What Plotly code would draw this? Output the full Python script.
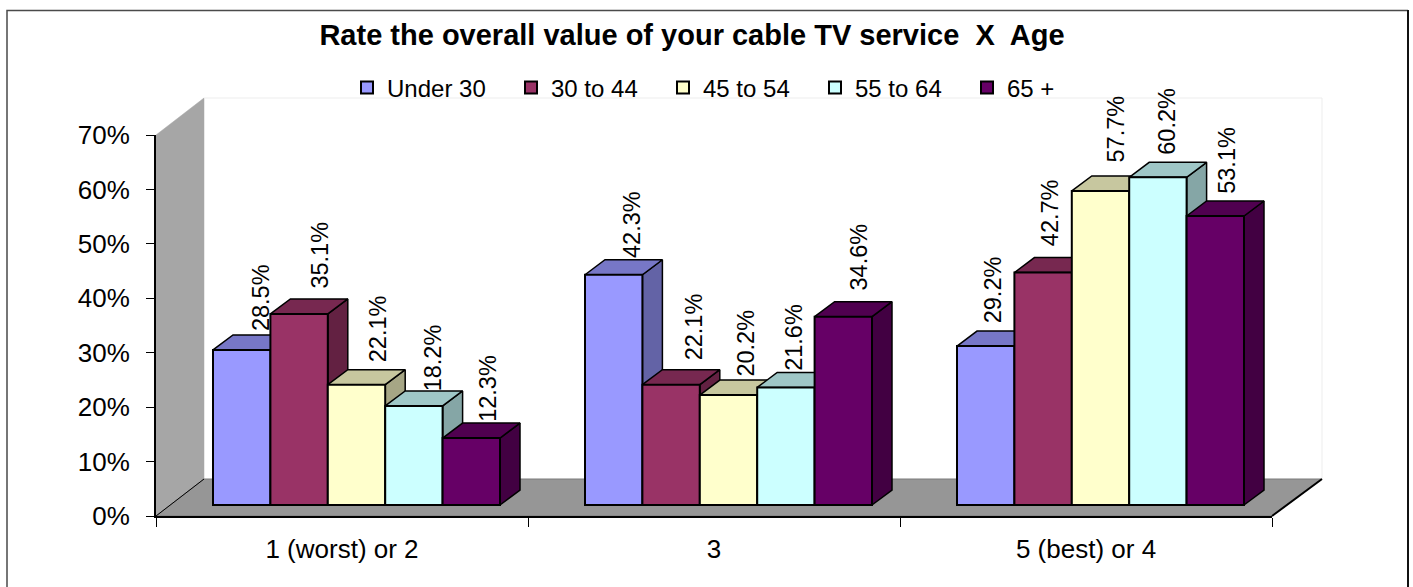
import plotly.graph_objects as go

CATEGORIES = ["1 (worst) or 2", "3", "5 (best) or 4"]
AGE_GROUPS = ["Under 30", "30 to 44", "45 to 54", "55 to 64", "65 +"]
UNDER_30 = [28.5, 42.3, 29.2]
AGE_30_44 = [35.1, 22.1, 42.7]
AGE_45_54 = [22.1, 20.2, 57.7]
AGE_55_64 = [18.2, 21.6, 60.2]
AGE_65_UP = [12.3, 34.6, 53.1]
SERIES = [UNDER_30, AGE_30_44, AGE_45_54, AGE_55_64, AGE_65_UP]
Y_TICKS = [0, 10, 20, 30, 40, 50, 60, 70]

# ---- styling / layout -------------------------------------------------
W, H = 1413, 587
L, R, T, B = 156, 1272, 135, 516
PX_CAT = (R - L) / 3
PX_PCT = (B - T) / 70
FONT = "Liberation Sans"
COLORS = ["#9999FF", "#993366", "#FFFFCC", "#CCFFFF", "#660066"]
TOP_SHADE, SIDE_SHADE = 0.78, 0.65

WALL_DX, WALL_DX_R, WALL_DY = 48 / PX_CAT, 50 / PX_CAT, 37 / PX_PCT
BAR_DX, BAR_DY = 20 / PX_CAT, 15 / PX_PCT
BAR_BASE = 11 / PX_PCT
BAR_LEFT = 57 / PX_CAT
BAR_W = 57.4 / PX_CAT

# label nudges in pixels, per series then per category
LABEL_DX = [[20, 19, 7], [21, 23, 7], [21.5, 17.5, 15.5], [20, 8, 9], [16, 16, 12]]
LABEL_DY = [[17, 15, 21], [23, 22, 24], [20, 16, 26], [13, 15, 21], [14, 24, 20]]
LEGEND_PX = [347, 511, 663, 815, 967]
LEGEND_PY = 88


def shade(hex_color, f):
    r, g, b = (int(hex_color[i:i + 2], 16) for i in (1, 3, 5))
    return f"rgb({round(r * f)},{round(g * f)},{round(b * f)})"


def poly(xs, ys, fill, line="#000000", lw=1.5):
    return go.Scatter(
        x=xs + xs[:1], y=ys + ys[:1], mode="lines", fill="toself", fillcolor=fill,
        line=dict(color=line, width=lw), showlegend=False, hoverinfo="skip",
        xaxis="x", yaxis="y",
    )


def line(xs, ys, color, lw):
    return go.Scatter(
        x=xs, y=ys, mode="lines", line=dict(color=color, width=lw), showlegend=False,
        hoverinfo="skip", xaxis="x", yaxis="y",
    )


fig = go.Figure()

# side wall, floor and back wall edges (background subplot spans the whole page)
fig.add_trace(poly([0, WALL_DX, WALL_DX, 0], [0, WALL_DY, 70 + WALL_DY, 70], "#A6A6A6", "#A6A6A6", 0.5))
fig.add_trace(poly([0, WALL_DX, 3 + WALL_DX_R, 3], [0, WALL_DY, WALL_DY, 0], "#969696", "#7A7A7A", 1))
fig.add_trace(line([WALL_DX, 3 + WALL_DX_R, 3 + WALL_DX_R], [70 + WALL_DY, 70 + WALL_DY, WALL_DY], "#EDEDED", 1))
fig.add_trace(line([0, WALL_DX], [0, WALL_DY], "#000000", 1))
fig.add_trace(line([3, 3 + WALL_DX_R], [0, WALL_DY], "#000000", 2))

# top and side faces, painted left to right
for c in range(len(CATEGORIES)):
    for s, values in enumerate(SERIES):
        v = BAR_BASE + values[c]
        x0 = c + BAR_LEFT + s * BAR_W
        x1 = x0 + BAR_W
        fig.add_trace(poly([x1, x1 + BAR_DX, x1 + BAR_DX, x1], [BAR_BASE, BAR_BASE + BAR_DY, v + BAR_DY, v],
                           shade(COLORS[s], SIDE_SHADE)))
        fig.add_trace(poly([x0, x0 + BAR_DX, x1 + BAR_DX, x1], [v, v + BAR_DY, v + BAR_DY, v],
                           shade(COLORS[s], TOP_SHADE)))

# front faces are real bars on the visible axes, in the subplot painted above
annotations = []
for s, (name, values) in enumerate(zip(AGE_GROUPS, SERIES)):
    centers = [c + BAR_LEFT + (s + 0.5) * BAR_W for c in range(len(CATEGORIES))]
    legend_id = "legend" if s == 0 else f"legend{s + 1}"
    fig.add_trace(go.Bar(
        x=centers, y=values, base=[BAR_BASE] * len(values), width=BAR_W, name=name,
        marker=dict(color=COLORS[s], line=dict(color="#000000", width=2)),
        xaxis="x2", yaxis="y2", legend=legend_id, hoverinfo="skip",
    ))
    for c, v in enumerate(values):
        annotations.append(dict(
            x=centers[c], y=BAR_BASE + v, xref="x2", yref="y2", text=f"{v:.1f}%", textangle=-90,
            showarrow=False, xanchor="center", yanchor="bottom", xshift=LABEL_DX[s][c],
            yshift=LABEL_DY[s][c], font=dict(family=FONT, size=23.5, color="#000000"),
        ))

layout = dict(
    width=W, height=H, autosize=False,
    margin=dict(l=0, r=0, t=0, b=0, pad=0, autoexpand=False),
    paper_bgcolor="#FFFFFF", plot_bgcolor="rgba(0,0,0,0)",
    barmode="overlay", showlegend=True,
    font=dict(family=FONT, color="#000000"),
    title=dict(
        text="<b>Rate the overall value of your cable TV service  X  Age</b>",
        x=692 / W, y=1 - 35 / H, xref="container", yref="container",
        xanchor="center", yanchor="middle", font=dict(family=FONT, size=29, color="#000000"),
    ),
    # background pair: same data units, extended to the whole page
    xaxis=dict(domain=[0, 1], range=[-L / PX_CAT, (W - L) / PX_CAT], visible=False, anchor="y"),
    yaxis=dict(domain=[0, 1], range=[(B - H) / PX_PCT, B / PX_PCT], visible=False, anchor="x"),
    # visible pair
    xaxis2=dict(
        domain=[L / W, R / W], anchor="y2",
        range=[0, 3], tickmode="array", tickvals=[0.5, 1.5, 2.5], ticktext=CATEGORIES, ticks="",
        tickfont=dict(family=FONT, size=26), showgrid=False, zeroline=False, showline=True,
        linecolor="#000000", linewidth=2, ticklabelstandoff=9,
        minor=dict(tickmode="array", tickvals=[0, 1, 2, 3], ticks="outside", ticklen=9,
                   tickcolor="#000000", tickwidth=1, showgrid=False),
    ),
    yaxis2=dict(
        domain=[1 - B / H, 1 - T / H], anchor="x2",
        range=[0, 70], tickmode="array", tickvals=Y_TICKS, ticktext=[f"{t}%" for t in Y_TICKS],
        ticks="outside", ticklen=8, tickcolor="#000000", tickwidth=1,
        tickfont=dict(family=FONT, size=26), showgrid=False, zeroline=False, showline=True,
        linecolor="#000000", linewidth=2, ticklabelstandoff=11,
    ),
    annotations=annotations,
    shapes=[
        dict(type="path", xref="paper", yref="paper", layer="below",
             path=f"M {7 / W} -0.1 L {7 / W} {1 - 10.5 / H} L {1408 / W} {1 - 10.5 / H}",
             line=dict(color="#4A4A4A", width=1.5)),
        dict(type="line", xref="paper", yref="paper", layer="below",
             x0=1408 / W, x1=1408 / W, y0=-0.1, y1=1 - 10 / H,
             line=dict(color="#111111", width=2)),
    ],
)
for s, px in enumerate(LEGEND_PX):
    key = "legend" if s == 0 else f"legend{s + 1}"
    layout[key] = dict(
        x=px / W, y=1 - LEGEND_PY / H, xanchor="left", yanchor="middle",
        orientation="h", bgcolor="rgba(0,0,0,0)", borderwidth=0,
        font=dict(family=FONT, size=24, color="#000000"), itemwidth=30,
    )
fig.update_layout(**layout)
fig.write_html(
    "out.html", config=dict(displayModeBar=False),
    post_script="document.body.style.margin='0';document.documentElement.style.overflow='hidden';",
)
